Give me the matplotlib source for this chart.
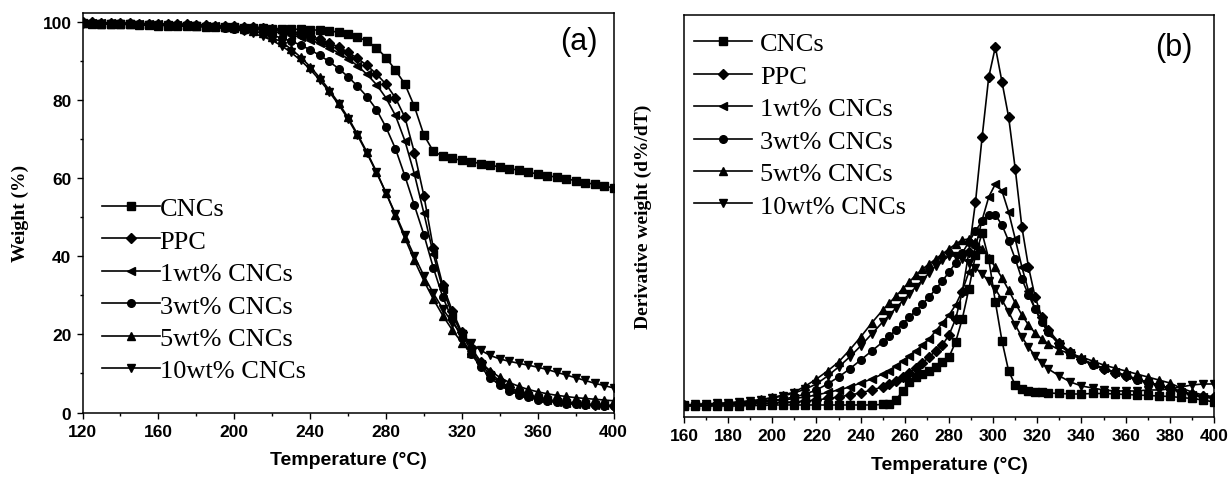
import matplotlib
matplotlib.use('Agg')
import matplotlib.pyplot as plt
from matplotlib.ticker import MultipleLocator

labels = ['CNCs', 'PPC', '1wt% CNCs', '3wt% CNCs', '5wt% CNCs', '10wt% CNCs']
markers = ['s', 'D', '<', 'o', '^', 'v']

# (a) TGA, weight in %
temp_tga = list(range(120, 401, 5))
tga_cncs = [99.6, 99.5, 99.5, 99.4, 99.3, 99.3, 99.2, 99.1, 99.0, 99.0,
            98.9, 98.8, 98.8, 98.7, 98.6, 98.6, 98.5, 98.4, 98.4, 98.3,
            98.2, 98.2, 98.1, 98.0, 97.9, 97.8, 97.6, 97.3, 96.8, 96.1,
            95.0, 93.3, 90.8, 87.6, 84.0, 78.3, 71.0, 66.8, 65.6, 65.0,
            64.5, 64.1, 63.7, 63.3, 62.8, 62.4, 62.0, 61.5, 61.0, 60.6,
            60.2, 59.8, 59.3, 58.8, 58.4, 57.9, 57.5]
tga_ppc = [99.8, 99.8, 99.7, 99.7, 99.6, 99.6, 99.5, 99.5, 99.4, 99.4,
           99.3, 99.3, 99.2, 99.1, 99.0, 98.9, 98.8, 98.7, 98.5, 98.3,
           98.1, 97.8, 97.4, 96.9, 96.3, 95.5, 94.6, 93.5, 92.2, 90.6,
           88.8, 86.6, 84.0, 80.5, 75.5, 66.5, 55.5, 42.0, 32.5, 26.0,
           20.5, 16.5, 13.0, 10.2, 8.0, 6.5, 5.3, 4.5, 3.8, 3.3,
           2.9, 2.6, 2.4, 2.2, 2.0, 1.8, 1.7]
tga_1wt = [99.7, 99.7, 99.6, 99.6, 99.5, 99.5, 99.4, 99.4, 99.3, 99.2,
           99.2, 99.1, 99.0, 98.9, 98.8, 98.7, 98.5, 98.3, 98.1, 97.8,
           97.5, 97.1, 96.6, 96.0, 95.3, 94.4, 93.3, 92.0, 90.5, 88.7,
           86.5, 83.9, 80.5, 76.0, 69.5, 61.0, 51.0, 40.5, 31.5, 25.0,
           20.0, 15.8, 12.3, 9.6, 7.6, 6.1, 5.0, 4.2, 3.6, 3.1,
           2.8, 2.5, 2.3, 2.1, 1.9, 1.8, 1.7]
tga_3wt = [99.6, 99.6, 99.5, 99.5, 99.4, 99.4, 99.3, 99.2, 99.2, 99.1,
           99.0, 98.9, 98.8, 98.7, 98.5, 98.3, 98.1, 97.8, 97.5, 97.0,
           96.5, 95.8, 95.0, 94.0, 92.8, 91.4, 89.8, 88.0, 85.9, 83.5,
           80.8, 77.5, 73.0, 67.5, 60.5, 53.0, 45.5, 37.0, 29.5, 23.8,
           19.0, 15.0, 11.6, 8.9, 7.0, 5.6, 4.6, 3.9, 3.3, 2.9,
           2.6, 2.3, 2.1, 1.9, 1.8, 1.7, 1.6]
tga_5wt = [99.6, 99.6, 99.5, 99.5, 99.4, 99.4, 99.3, 99.3, 99.2, 99.2,
           99.1, 99.1, 99.0, 98.9, 98.8, 98.6, 98.4, 98.1, 97.6, 97.0,
           96.0, 94.7, 93.0, 90.9, 88.5, 85.7, 82.6, 79.2, 75.5, 71.2,
           66.6, 61.6, 56.2, 50.5, 44.6, 38.9, 33.7, 29.0, 24.8, 21.1,
           17.9, 15.1, 12.7, 10.7, 9.0, 7.7, 6.7, 5.9, 5.3, 4.8,
           4.4, 4.1, 3.8, 3.6, 3.4, 3.2, 3.0]
tga_10wt = [99.5, 99.5, 99.4, 99.4, 99.3, 99.3, 99.2, 99.2, 99.1, 99.1,
            99.0, 98.9, 98.8, 98.7, 98.5, 98.3, 98.0, 97.6, 97.0, 96.2,
            95.2, 93.8, 92.1, 90.1, 87.8, 85.1, 82.1, 78.8, 75.1, 70.9,
            66.3, 61.4, 56.2, 50.8, 45.3, 40.0, 35.0, 30.5, 26.5, 23.0,
            20.0, 17.7, 15.9, 14.6, 13.7, 13.1, 12.6, 12.1, 11.6, 11.0,
            10.3, 9.6, 8.9, 8.2, 7.5, 6.9, 6.3]

# (b) DTG, arbitrary units
temp_dtg = [160, 165, 170, 175, 180, 185, 190, 195, 200, 205, 210, 215, 220, 225, 230, 235, 240, 245, 250,
            253, 256, 259, 262, 265, 268, 271, 274, 277, 280, 283, 286, 289, 292, 295, 298, 301, 304, 307,
            310, 313, 316, 319, 322, 325,
            330, 335, 340, 345, 350, 355, 360, 365, 370, 375, 380, 385, 390, 395, 400]
dtg_cncs = [0.11, 0.11, 0.11, 0.11, 0.11, 0.11, 0.115, 0.115, 0.12, 0.12, 0.12, 0.12, 0.12, 0.12, 0.12, 0.12, 0.12, 0.12, 0.125,
            0.13, 0.17, 0.26, 0.35, 0.40, 0.43, 0.46, 0.50, 0.55, 0.60, 0.75, 0.98, 1.28, 1.62, 1.84, 1.58, 1.15, 0.76, 0.46,
            0.32, 0.28, 0.26, 0.25, 0.245, 0.24,
            0.235, 0.23, 0.23, 0.235, 0.235, 0.23, 0.225, 0.22, 0.215, 0.21, 0.205, 0.195, 0.185, 0.17, 0.15]
dtg_ppc = [0.12, 0.12, 0.12, 0.125, 0.125, 0.13, 0.13, 0.135, 0.14, 0.145, 0.15, 0.16, 0.17, 0.185, 0.20, 0.22, 0.24, 0.27, 0.30,
           0.33, 0.36, 0.40, 0.44, 0.49, 0.54, 0.60, 0.66, 0.72, 0.82, 0.98, 1.25, 1.65, 2.15, 2.80, 3.40, 3.70, 3.35, 3.00,
           2.48, 1.90, 1.50, 1.20, 1.00, 0.87,
           0.74, 0.65, 0.58, 0.53, 0.48, 0.44, 0.41, 0.38, 0.35, 0.32, 0.29, 0.26, 0.23, 0.21, 0.20]
dtg_1wt = [0.12, 0.12, 0.125, 0.125, 0.13, 0.135, 0.14, 0.15, 0.16, 0.17, 0.185, 0.20, 0.22, 0.245, 0.27, 0.30, 0.34, 0.38, 0.43,
           0.46, 0.51, 0.56, 0.61, 0.66, 0.72, 0.78, 0.86, 0.94, 1.02, 1.12, 1.26, 1.45, 1.70, 1.97, 2.20, 2.33, 2.26, 2.05,
           1.78, 1.50, 1.26, 1.08, 0.95, 0.84,
           0.73, 0.64, 0.58, 0.53, 0.49, 0.45, 0.42, 0.38, 0.35, 0.32, 0.28, 0.25, 0.22, 0.20, 0.19]
dtg_3wt = [0.12, 0.12, 0.125, 0.13, 0.135, 0.14, 0.15, 0.16, 0.165, 0.18, 0.20, 0.23, 0.27, 0.33, 0.40, 0.48, 0.57, 0.66, 0.75,
           0.81, 0.87, 0.93, 1.00, 1.06, 1.13, 1.20, 1.28, 1.36, 1.45, 1.54, 1.64, 1.75, 1.86, 1.96, 2.02, 2.02, 1.92, 1.76,
           1.58, 1.38, 1.22, 1.08, 0.95, 0.85,
           0.72, 0.63, 0.57, 0.52, 0.48, 0.44, 0.41, 0.37, 0.34, 0.31, 0.28, 0.25, 0.22, 0.20, 0.19]
dtg_5wt = [0.12, 0.125, 0.13, 0.135, 0.14, 0.15, 0.16, 0.175, 0.195, 0.22, 0.25, 0.31, 0.38, 0.46, 0.55, 0.67, 0.80, 0.94, 1.07,
           1.14, 1.21, 1.28, 1.35, 1.42, 1.48, 1.53, 1.58, 1.63, 1.68, 1.73, 1.77, 1.78, 1.75, 1.68, 1.59, 1.50, 1.39, 1.27,
           1.14, 1.02, 0.92, 0.84, 0.78, 0.73,
           0.67, 0.63, 0.60, 0.56, 0.52, 0.49, 0.46, 0.43, 0.40, 0.37, 0.34, 0.29, 0.25, 0.22, 0.20]
dtg_10wt = [0.12, 0.125, 0.13, 0.135, 0.14, 0.15, 0.16, 0.17, 0.19, 0.21, 0.24, 0.28, 0.33, 0.41, 0.50, 0.60, 0.71, 0.83, 0.95,
            1.02, 1.09, 1.16, 1.23, 1.30, 1.37, 1.44, 1.51, 1.57, 1.61, 1.61, 1.58, 1.54, 1.49, 1.43, 1.36, 1.28, 1.17, 1.05,
            0.92, 0.80, 0.70, 0.61, 0.54, 0.48,
            0.41, 0.35, 0.31, 0.29, 0.27, 0.26, 0.26, 0.26, 0.27, 0.27, 0.28, 0.30, 0.32, 0.33, 0.33]

tga = [tga_cncs, tga_ppc, tga_1wt, tga_3wt, tga_5wt, tga_10wt]
dtg = [dtg_cncs, dtg_ppc, dtg_1wt, dtg_3wt, dtg_5wt, dtg_10wt]

sans = 'Liberation Sans'
serif = 'Liberation Serif'

fig = plt.figure(figsize=(12.28, 4.81), dpi=100)
ax1 = fig.add_axes([0.0672, 0.1403, 0.4324, 0.8306])
ax2 = fig.add_axes([0.5570, 0.1310, 0.4316, 0.8364])


def style_axes(ax):
    for s in ax.spines.values():
        s.set_linewidth(1.1)
    ax.tick_params(which='major', direction='out', length=4.5, width=1.0)
    ax.tick_params(which='minor', direction='out', length=2.5, width=1.0)
    ax.tick_params(top=False, right=False, which='both')
    for t in ax.get_xticklabels() + ax.get_yticklabels():
        t.set_fontfamily(sans)
        t.set_fontweight('bold')
        t.set_fontsize(12.5)


leg_font = {'family': serif, 'size': 19}

# left panel
for y, lab, m in zip(tga, labels, markers):
    ms = 5 if m == 'D' else 5.5
    ax1.plot(temp_tga, y, color='black', lw=1.2, marker=m, ms=ms, label=lab)
ax1.set_xlim(120, 400)
ax1.set_ylim(0, 102.2)
ax1.xaxis.set_major_locator(MultipleLocator(40))
ax1.xaxis.set_minor_locator(MultipleLocator(20))
ax1.yaxis.set_major_locator(MultipleLocator(20))
ax1.yaxis.set_minor_locator(MultipleLocator(10))
style_axes(ax1)
ax1.set_xlabel('Temperature (°C)', fontfamily=sans, fontweight='bold', fontsize=14, labelpad=9)
ax1.set_ylabel('Weight (%)', fontfamily=serif, fontweight='bold', fontsize=14, labelpad=10)
ax1.text(0.935, 0.93, '(a)', transform=ax1.transAxes, ha='center', va='center',
         fontfamily=sans, fontsize=22)
ax1.legend(loc='upper left', bbox_to_anchor=(0.036, 0.54), frameon=False,
           prop=leg_font, handlelength=2.2, handletextpad=0.0,
           labelspacing=0.34, borderpad=0, borderaxespad=0)

# right panel
for y, lab, m in zip(dtg, labels, markers):
    ms = 5 if m == 'D' else 5.5
    ax2.plot(temp_dtg, y, color='black', lw=1.2, marker=m, ms=ms, label=lab)
ax2.set_xlim(160, 400)
ax2.set_ylim(0, 4.023)
ax2.xaxis.set_major_locator(MultipleLocator(20))
ax2.xaxis.set_minor_locator(MultipleLocator(10))
ax2.set_yticks([])
style_axes(ax2)
ax2.set_xlabel('Temperature (°C)', fontfamily=sans, fontweight='bold', fontsize=14, labelpad=9)
ax2.set_ylabel('Derivative weight (d%/dT)', fontfamily=serif, fontweight='bold', fontsize=14, labelpad=23)
ax2.text(0.925, 0.92, '(b)', transform=ax2.transAxes, ha='center', va='center',
         fontfamily=sans, fontsize=22)
ax2.legend(loc='upper left', bbox_to_anchor=(0.019, 0.957), frameon=False,
           prop=leg_font, handlelength=2.2, handletextpad=0.3,
           labelspacing=0.34, borderpad=0, borderaxespad=0)

fig.savefig('out.png', dpi=100)
